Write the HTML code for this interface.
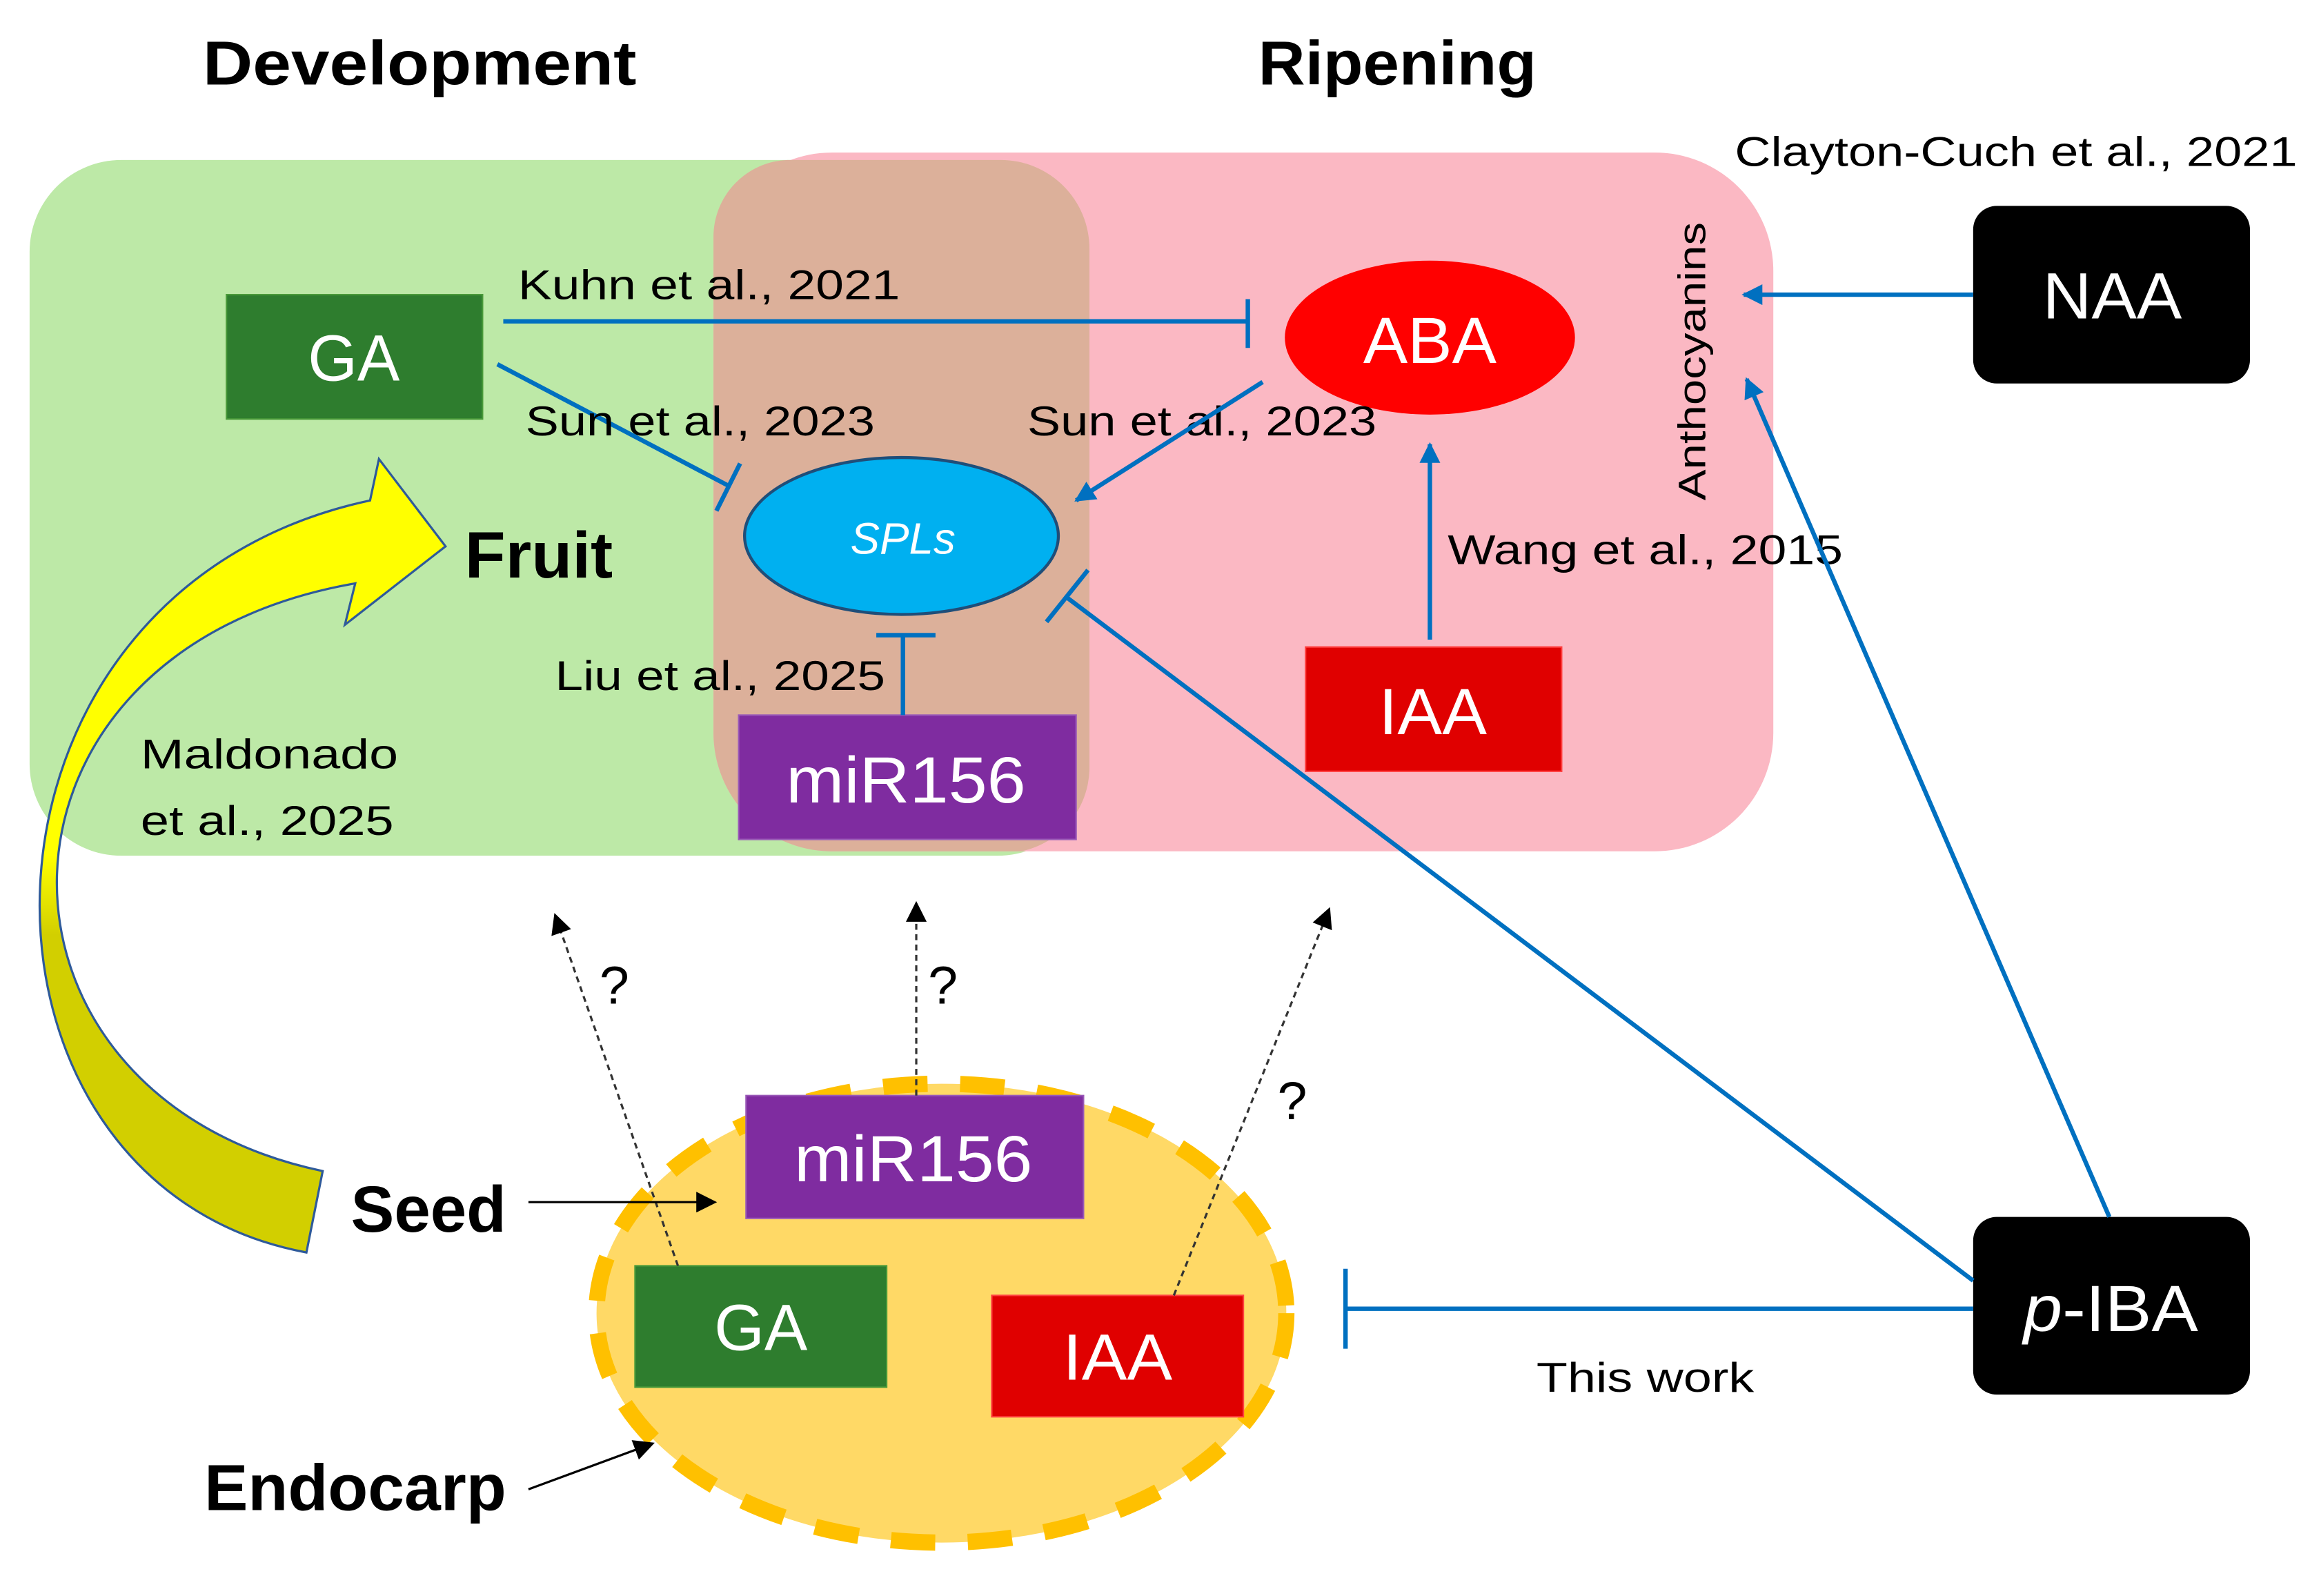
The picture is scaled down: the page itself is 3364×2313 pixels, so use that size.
<!DOCTYPE html>
<html><head><meta charset="utf-8"><style>
html,body{margin:0;padding:0;background:#fff;width:3364px;height:2313px;overflow:hidden}
svg{display:block}
text{font-family:"Liberation Sans",sans-serif}
</style></head><body>
<svg width="3364" height="2313" viewBox="0 0 1568 1078" xmlns="http://www.w3.org/2000/svg">
<defs>
<linearGradient id="yg" gradientUnits="userSpaceOnUse" x1="0" y1="310" x2="0" y2="846">
<stop offset="0" stop-color="#ffff00"/><stop offset="0.5" stop-color="#ffff00"/><stop offset="0.6" stop-color="#d2cf00"/><stop offset="1" stop-color="#d2cf00"/>
</linearGradient>
<marker id="ab" viewBox="0 0 10 10" refX="9" refY="5" markerWidth="16" markerHeight="14" orient="auto" markerUnits="userSpaceOnUse"><path d="M0,0L10,5L0,10z" fill="#0070c0"/></marker>
<marker id="ak" viewBox="0 0 10 10" refX="9" refY="5" markerWidth="16" markerHeight="14" orient="auto" markerUnits="userSpaceOnUse"><path d="M0,0L10,5L0,10z" fill="#000"/></marker>
</defs>

<text x="137" y="57" font-size="42" font-weight="bold" textLength="293" lengthAdjust="spacingAndGlyphs">Development</text>
<text x="850" y="57" font-size="42" font-weight="bold" textLength="188" lengthAdjust="spacingAndGlyphs">Ripening</text>

<rect x="20" y="108" width="716" height="470" rx="62" fill="#bde9a7"/>
<rect x="482" y="103" width="716" height="472" rx="80" fill="#fbb8c3"/>
<path d="M532,108 H676 A60,60 0 0 1 736,168 V520 A58,58 0 0 1 690,575 H560 A80,80 0 0 1 482,495 V160 A52,52 0 0 1 532,108Z" fill="#dcb09a"/>

<text x="1172" y="112" font-size="28" textLength="380" lengthAdjust="spacingAndGlyphs">Clayton-Cuch et al., 2021</text>

<rect x="153" y="199" width="173" height="84" fill="#2e7d2e" stroke="#4a9a3a" stroke-width="1"/>
<text x="239" y="257" font-size="44" fill="#fff" text-anchor="middle" textLength="62" lengthAdjust="spacingAndGlyphs">GA</text>

<text x="350" y="202" font-size="28" textLength="258" lengthAdjust="spacingAndGlyphs">Kuhn et al., 2021</text>
<line x1="340" y1="217" x2="843" y2="217" stroke="#0070c0" stroke-width="3"/>
<line x1="843" y1="202" x2="843" y2="235" stroke="#0070c0" stroke-width="3"/>

<ellipse cx="966" cy="228" rx="98" ry="52" fill="#ff0000"/>
<text x="966" y="245" font-size="44" fill="#fff" text-anchor="middle" textLength="90" lengthAdjust="spacingAndGlyphs">ABA</text>

<rect x="1333" y="139" width="187" height="120" rx="16" fill="#000"/>
<text x="1427" y="215" font-size="44" fill="#fff" text-anchor="middle" textLength="94" lengthAdjust="spacingAndGlyphs">NAA</text>
<line x1="1333" y1="199" x2="1178" y2="199" stroke="#0070c0" stroke-width="3" marker-end="url(#ab)"/>

<text transform="translate(1152,338) rotate(-90)" font-size="26" textLength="188" lengthAdjust="spacingAndGlyphs">Anthocyanins</text>

<line x1="336" y1="246" x2="492" y2="328" stroke="#0070c0" stroke-width="3"/>
<line x1="484" y1="345" x2="500" y2="313" stroke="#0070c0" stroke-width="3"/>

<ellipse cx="609" cy="362" rx="106" ry="53" fill="#00b0f0" stroke="#1f4e79" stroke-width="2"/>
<text x="610" y="374" font-size="30" font-style="italic" fill="#fff" text-anchor="middle" textLength="71" lengthAdjust="spacingAndGlyphs">SPLs</text>

<text x="355" y="294" font-size="28" textLength="236" lengthAdjust="spacingAndGlyphs">Sun et al., 2023</text>
<text x="694" y="294" font-size="28" textLength="236" lengthAdjust="spacingAndGlyphs">Sun et al., 2023</text>
<line x1="853" y1="258" x2="727" y2="338" stroke="#0070c0" stroke-width="3" marker-end="url(#ab)"/>

<rect x="882" y="437" width="173" height="84" fill="#e00000" stroke="#ff4040" stroke-width="1"/>
<text x="968" y="496" font-size="44" fill="#fff" text-anchor="middle" textLength="73" lengthAdjust="spacingAndGlyphs">IAA</text>
<line x1="966" y1="432" x2="966" y2="300" stroke="#0070c0" stroke-width="3" marker-end="url(#ab)"/>
<text x="978" y="381" font-size="28" textLength="267" lengthAdjust="spacingAndGlyphs">Wang et al., 2015</text>

<text x="314" y="390" font-size="44" font-weight="bold" textLength="100" lengthAdjust="spacingAndGlyphs">Fruit</text>

<rect x="499" y="483" width="228" height="84" fill="#7f2ca0" stroke="#9a5ab8" stroke-width="1"/>
<text x="612" y="542" font-size="44" fill="#fff" text-anchor="middle" textLength="162" lengthAdjust="spacingAndGlyphs">miR156</text>
<line x1="610" y1="483" x2="610" y2="429" stroke="#0070c0" stroke-width="3"/>
<line x1="592" y1="429" x2="632" y2="429" stroke="#0070c0" stroke-width="3"/>
<text x="375" y="466" font-size="28" textLength="223" lengthAdjust="spacingAndGlyphs">Liu et al., 2025</text>

<text x="95" y="519" font-size="28" textLength="174" lengthAdjust="spacingAndGlyphs">Maldonado</text>
<text x="95" y="564" font-size="28" textLength="171" lengthAdjust="spacingAndGlyphs">et al., 2025</text>

<path d="M218,791 C -25,740 -25,440 240,394 L233,422 L301,369 L256,310 L250,338 C -40,400 -40,800 207,846 Z" fill="url(#yg)" stroke="#2e5a9a" stroke-width="1.5"/>

<rect x="1333" y="822" width="187" height="120" rx="16" fill="#000"/>
<text x="1367" y="899" font-size="44" fill="#fff" textLength="118" lengthAdjust="spacingAndGlyphs"><tspan font-style="italic">p</tspan>-IBA</text>
<line x1="1333" y1="865" x2="720" y2="403" stroke="#0070c0" stroke-width="3"/>
<line x1="707" y1="420" x2="735" y2="385" stroke="#0070c0" stroke-width="3"/>
<line x1="1425" y1="822" x2="1180" y2="256" stroke="#0070c0" stroke-width="3" marker-end="url(#ab)"/>
<line x1="1333" y1="884" x2="909" y2="884" stroke="#0070c0" stroke-width="3"/>
<line x1="909" y1="857" x2="909" y2="911" stroke="#0070c0" stroke-width="3"/>
<text x="1038" y="940" font-size="28" textLength="147" lengthAdjust="spacingAndGlyphs">This work</text>

<ellipse cx="636" cy="887" rx="233" ry="155" fill="#ffd966" stroke="#ffc000" stroke-width="11" stroke-dasharray="30 22"/>
<rect x="504" y="740" width="228" height="83" fill="#7f2ca0" stroke="#9a5ab8" stroke-width="1"/>
<text x="617" y="798" font-size="44" fill="#fff" text-anchor="middle" textLength="161" lengthAdjust="spacingAndGlyphs">miR156</text>
<rect x="429" y="855" width="170" height="82" fill="#2e7d2e" stroke="#4a9a3a" stroke-width="1"/>
<text x="514" y="912" font-size="44" fill="#fff" text-anchor="middle" textLength="63" lengthAdjust="spacingAndGlyphs">GA</text>
<rect x="670" y="875" width="170" height="82" fill="#e00000" stroke="#ff4040" stroke-width="1"/>
<text x="755" y="932" font-size="44" fill="#fff" text-anchor="middle" textLength="74" lengthAdjust="spacingAndGlyphs">IAA</text>

<line x1="458" y1="855" x2="375" y2="618" stroke="#333" stroke-width="1.5" stroke-dasharray="4 3" marker-end="url(#ak)"/>
<line x1="619" y1="740" x2="619" y2="610" stroke="#333" stroke-width="1.5" stroke-dasharray="4 3" marker-end="url(#ak)"/>
<line x1="793" y1="875" x2="898" y2="614" stroke="#333" stroke-width="1.5" stroke-dasharray="4 3" marker-end="url(#ak)"/>
<text x="405" y="678" font-size="36">?</text>
<text x="627" y="678" font-size="36">?</text>
<text x="863" y="756" font-size="36">?</text>

<text x="237" y="832" font-size="44" font-weight="bold" textLength="105" lengthAdjust="spacingAndGlyphs">Seed</text>
<line x1="357" y1="812" x2="483" y2="812" stroke="#000" stroke-width="1.5" marker-end="url(#ak)"/>
<text x="138" y="1020" font-size="44" font-weight="bold" textLength="204" lengthAdjust="spacingAndGlyphs">Endocarp</text>
<line x1="357" y1="1006" x2="441" y2="975" stroke="#000" stroke-width="1.5" marker-end="url(#ak)"/>
</svg>
</body></html>
